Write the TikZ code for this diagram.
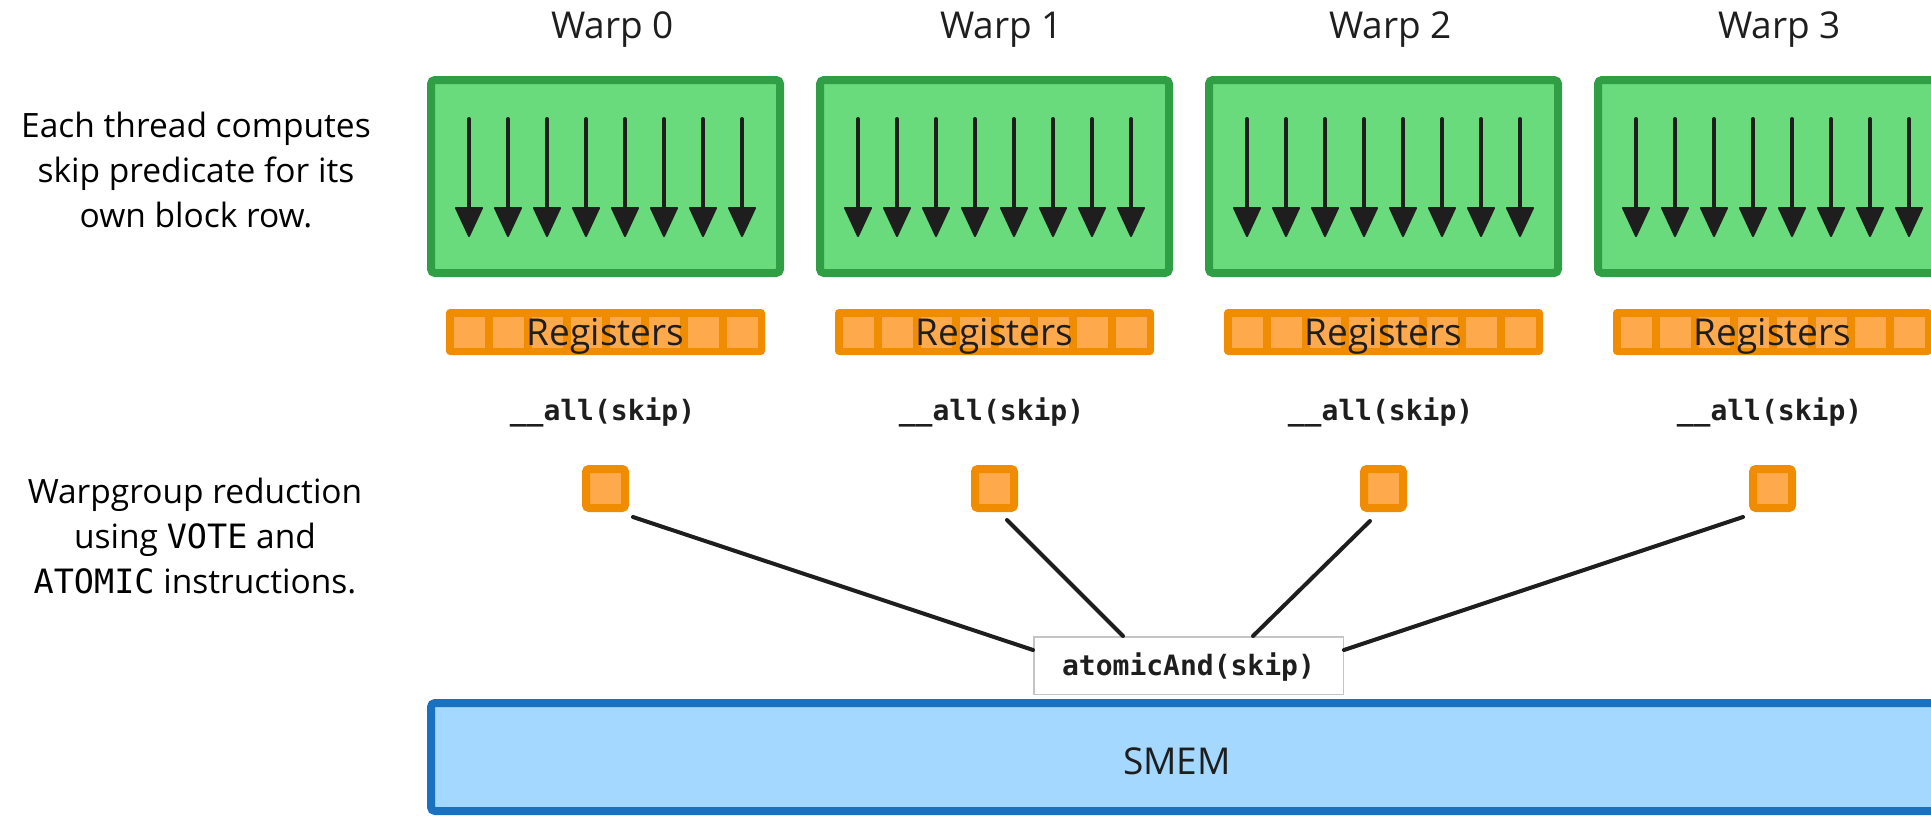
\documentclass[tikz,border=0pt]{standalone}
\usepackage{fontspec}
\setmainfont{Open Sans}
\setmonofont{DejaVu Sans Mono}
\usetikzlibrary{calc}
\definecolor{gfill}{HTML}{69DB7C}
\definecolor{gline}{HTML}{2F9E44}
\definecolor{ofill}{HTML}{FFA94D}
\definecolor{oline}{HTML}{F08C00}
\definecolor{bfill}{HTML}{A5D8FF}
\definecolor{bline}{HTML}{1971C2}
\definecolor{ink}{HTML}{1E1E1E}
\definecolor{gbox}{HTML}{C4C4C4}
\tikzset{
  warpbox/.style={draw=gline, fill=gfill, line width=8pt, rounded corners=4pt,
    minimum width=349pt, minimum height=193pt, inner sep=0pt},
  wlabel/.style={font=\fontsize{37}{44}\selectfont, text=ink, inner sep=0pt},
  shaft/.style={draw=ink, line width=4pt, line cap=round},
  thead/.style={draw=ink, fill=ink, line width=2pt, line join=round},
  regbar/.style={fill=oline, rounded corners=4pt, minimum width=319pt,
    minimum height=46pt, inner sep=0pt},
  regcell/.style={fill=ofill},
  regtext/.style={font=\fontsize{37}{44}\selectfont, text=ink, inner sep=0pt,
    text height=26.4pt, text depth=0pt},
  monolabel/.style={font=\ttfamily\bfseries\fontsize{28}{34}\selectfont, text=ink, inner sep=0pt},
  sqbox/.style={draw=oline, fill=ofill, line width=8pt, rounded corners=3pt,
    minimum size=39pt, inner sep=0pt},
  atombox/.style={draw=gbox, fill=white, line width=1.5pt, minimum width=309.5pt,
    minimum height=57.5pt, inner sep=0pt, font=\ttfamily\bfseries\fontsize{28}{34}\selectfont,
    text=ink, text height=20.4pt, text depth=0pt},
  conn/.style={draw=ink, line width=4pt, line cap=round},
  smembox/.style={draw=bline, fill=bfill, line width=8pt, rounded corners=4pt,
    minimum width=1528pt, minimum height=108pt, inner sep=0pt},
  smemtext/.style={font=\fontsize{37}{44}\selectfont, text=ink, inner sep=0pt,
    text height=26.4pt, text depth=0pt},
  lefttext/.style={align=center, font=\fontsize{33.5}{45}\selectfont, text=black,
    inner sep=0pt, anchor=north}
}
\begin{document}
\begin{tikzpicture}[x=1pt, y=-1pt]
\useasboundingbox (0,0) rectangle (1931,817);
\clip (0,0) rectangle (1931,817);

% left explanations
\node[lefttext] (t1) at (196,111.5) {Each thread computes\\skip predicate for its\\own block row.};
\node[lefttext] (t2) at (195,477.5) {Warpgroup reduction\\using \texttt{VOTE} and\\\texttt{ATOMIC} instructions.};

% SMEM
\node[smembox] (smem) at (1195,757) {};
\node[smemtext] (smemt) at (1177,761) {SMEM};

% warps
\foreach \i in {0,...,3}{
  \pgfmathsetmacro\cx{605.5+389*\i}
  \node[wlabel, anchor=base] (wl\i) at (\cx+7,38) {Warp \i};
  \node[warpbox] (warp\i) at (\cx,176.5) {};
  \foreach \k in {0,...,7}{
    \pgfmathsetmacro\ax{\cx-136.5+39*\k}
    \draw[shaft] (\ax,119) -- (\ax,212);
    \filldraw[thead] (\ax-13,208) -- (\ax+13,208) -- (\ax,236) -- cycle;
  }
  \node[regbar] (reg\i) at (\cx,332) {};
  \foreach \k in {0,...,7}{
    \pgfmathsetmacro\ax{\cx-136.5+39*\k}
    \fill[regcell] (\ax-15.5,317) rectangle (\ax+15.5,348);
  }
  \node[regtext] (regt\i) at (reg\i.center) {Registers};
  \node[monolabel, anchor=base] (all\i) at (\cx-3,420) {\_\_all(skip)};
  \node[sqbox] (sq\i) at (\cx,488.5) {};
}

% atomic
\node[atombox] (atomic) at (1188.5,665.5) {atomicAnd(skip)};
\draw[conn] ($(sq0.center)+(27.5,28.5)$) -- ($(atomic.west)+(0,-15.5)$);
\draw[conn] ($(sq1.center)+(12.5,31.5)$) -- ($(atomic.north)+(-65.5,0)$);
\draw[conn] ($(sq2.center)+(-13.5,32.5)$) -- ($(atomic.north)+(64.5,0)$);
\draw[conn] ($(sq3.center)+(-29.5,28.5)$) -- ($(atomic.east)+(0,-15.5)$);
\end{tikzpicture}
\end{document}
